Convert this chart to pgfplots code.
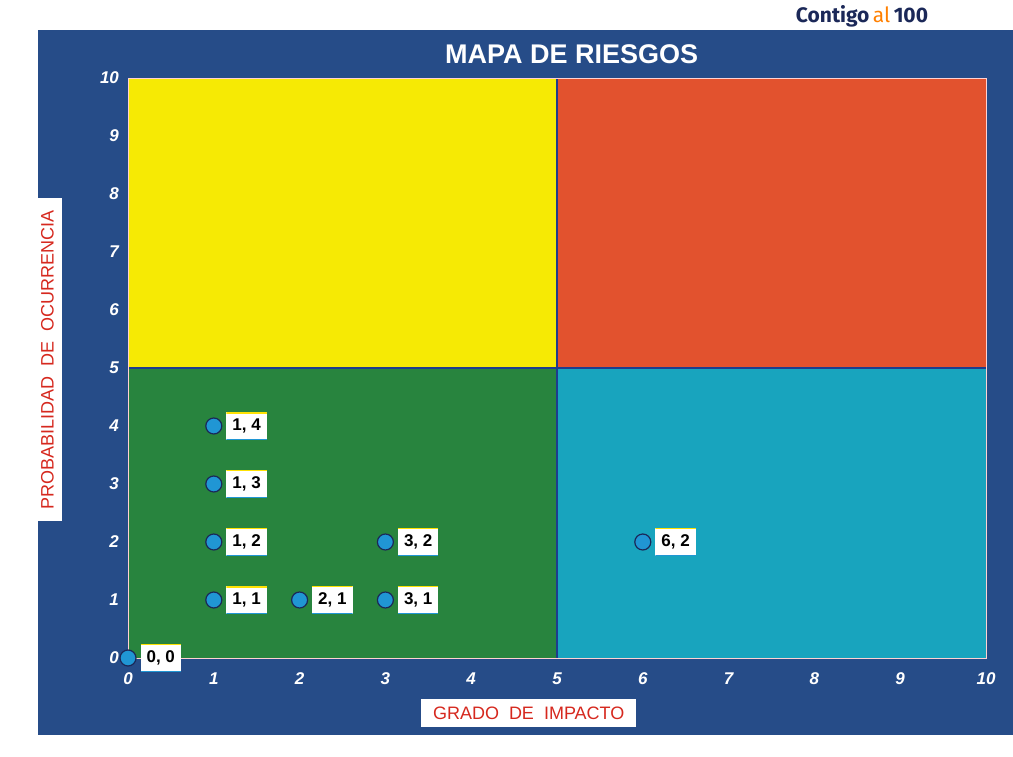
\documentclass[border=0pt]{standalone}
\usepackage{fontspec}
\setmainfont{Liberation Sans}
\setsansfont{Liberation Sans}
\newfontfamily\logofont{Fira Sans}
\usepackage{pgfplots}
\pgfplotsset{compat=1.18}
\definecolor{panel}{RGB}{38,76,136}
\definecolor{qyellow}{RGB}{246,234,4}
\definecolor{qred}{RGB}{226,82,46}
\definecolor{qgreen}{RGB}{40,132,62}
\definecolor{qcyan}{RGB}{24,164,190}
\definecolor{ptblue}{RGB}{32,150,212}
\definecolor{labred}{RGB}{214,40,30}
\definecolor{navy}{RGB}{27,40,88}
\definecolor{sepblue}{RGB}{30,60,140}
\begin{document}
\begin{tikzpicture}
\useasboundingbox (0,0) rectangle (506.5pt,378pt);
\fill[white] (0,0) rectangle (506.5pt,378pt);
\fill[panel] (19pt,10.5pt) rectangle (506.5pt,363pt);
\node[font=\logofont\bfseries\fontsize{10.5}{12}\selectfont, text=navy] at (431pt,370pt) {Contigo\,{\mdseries\color{orange}al}\,100};
\begin{axis}[
  at={(64pt,49pt)}, anchor=south west,
  width=429pt, height=290pt, scale only axis,
  xmin=0, xmax=10, ymin=0, ymax=10,
  xtick={0,...,10}, ytick={0,...,10},
  major tick length=0pt, tick style={draw=none},
  axis on top=true,
  axis line style={draw=pink!70!white, line width=0.4pt},
  /pgf/number format/assume math mode=true,
  ticklabel style={text=white, font=\bfseries\itshape\fontsize{8.5}{10}\selectfont},
  xticklabel style={yshift=-4pt},
  yticklabel style={xshift=-1pt},
  title={MAPA DE RIESGOS},
  title style={at={(axis description cs:0.517,1.02)}, anchor=center, text=white, font=\bfseries\fontsize{13.5}{16}\selectfont},
  xlabel={GRADO\ \ DE\ \ IMPACTO},
  ylabel={PROBABILIDAD\ \ DE\ \ OCURRENCIA},
  xlabel style={at={(axis description cs:0.467,-0.095)}, anchor=center, fill=white, text=labred, font=\fontsize{9}{11}\selectfont, inner xsep=6pt, inner ysep=4pt},
  ylabel style={at={(axis description cs:-0.094,0.514)}, anchor=center, rotate=0, fill=white, text=labred, font=\fontsize{9}{11}\selectfont, inner xsep=6pt, inner ysep=4pt},
]
\addplot[fill=qgreen, draw=none] coordinates {(0,0) (5,0) (5,5) (0,5)} -- cycle;
\addplot[fill=qyellow, draw=none] coordinates {(0,5) (5,5) (5,10) (0,10)} -- cycle;
\addplot[fill=qred, draw=none] coordinates {(5,5) (10,5) (10,10) (5,10)} -- cycle;
\addplot[fill=qcyan, draw=none] coordinates {(5,0) (10,0) (10,5) (5,5)} -- cycle;
\addplot[draw=sepblue, line width=0.6pt] coordinates {(5,0) (5,10)};
\addplot[draw=sepblue, line width=0.6pt] coordinates {(0,5) (10,5)};
\addplot[only marks, mark=*, mark size=4pt,
  mark options={fill=ptblue, draw=navy, line width=0.6pt},
  point meta=explicit symbolic,
  nodes near coords,
  nodes near coords style={anchor=west, xshift=6pt, fill=white, text=black,
    font=\bfseries\fontsize{8.5}{10}\selectfont, inner xsep=3pt, minimum height=12pt,
    path picture={
      \draw[yellow!85!orange, line width=1.4pt] (path picture bounding box.north west) -- (path picture bounding box.north east);
      \draw[ptblue, line width=1.2pt] (path picture bounding box.south west) -- (path picture bounding box.south east);
    }},
] coordinates {
  (0,0) [0, 0]
  (1,1) [1, 1]
  (1,2) [1, 2]
  (1,3) [1, 3]
  (1,4) [1, 4]
  (2,1) [2, 1]
  (3,1) [3, 1]
  (3,2) [3, 2]
  (6,2) [6, 2]
};
\end{axis}
\end{tikzpicture}
\end{document}
